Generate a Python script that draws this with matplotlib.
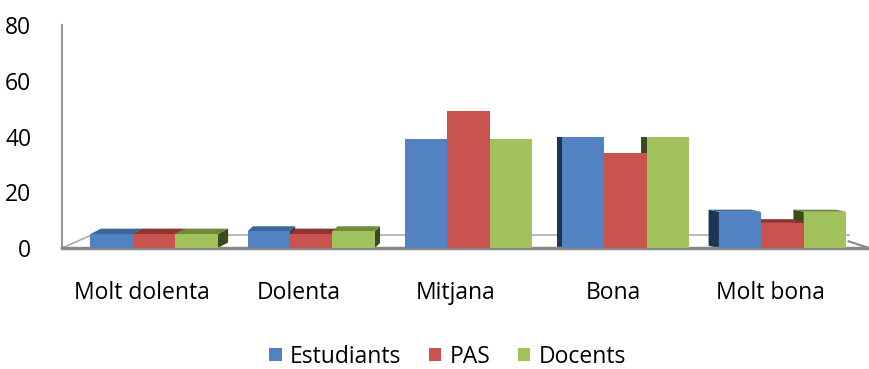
import numpy as np
import matplotlib
matplotlib.use('Agg')
import matplotlib.pyplot as plt
from matplotlib.patches import Polygon

categories = ['Molt dolenta', 'Dolenta', 'Mitjana', 'Bona', 'Molt bona']
series = ['Estudiants', 'PAS', 'Docents']
estudiants = [5, 6, 39, 40, 13]
pas = [5, 5, 49, 34, 9]
docents = [5, 6, 39, 40, 13]
yticks = [0, 20, 40, 60, 80]

front = ['#5282C2', '#C9544F', '#A2C25E']
top = ['#3E6799', '#8E3533', '#6E8A3A']
side = ['#1E3454', '#5A2220', '#3C4A20']

plt.rcParams['font.family'] = ['Open Sans', 'DejaVu Sans']

fig = plt.figure(figsize=(8.69, 3.69), dpi=100)
ax = fig.add_axes([62 / 869, (369 - 248) / 369, 1 - 62 / 869, (248 - 25) / 369])

w = 0.27
centre = 2.0          # vanishing point, in category units
k_side = 0.033        # horizontal depth per category unit away from centre
eye = 18.0            # bars below this level show their top face
k_top = 0.15

values = [estudiants, pas, docents]
x = np.arange(len(categories))

# floor behind the bars
ax.plot([-0.40, 4.42], [4.6, 4.6], color='#BBBBBB', lw=1.5, zorder=1)
ax.plot([-0.586, -0.40], [0, 4.6], color='#AAAAAA', lw=1.2, zorder=1, clip_on=False)
ax.plot([4.42, 4.55], [2.4, 0], color='#888888', lw=1.5, zorder=1, clip_on=False)

for s, vals in enumerate(values):
    for i, h in enumerate(vals):
        x0 = x[i] + (s - 1) * w - w / 2
        x1 = x0 + w
        dx = (centre - x[i]) * k_side
        dy = max(eye - h, 0) * k_top
        # side face toward the centre
        ex = x1 if dx > 0 else x0
        ax.add_patch(Polygon([(ex, 0), (ex, h), (ex + dx, h + dy), (ex + dx, dy)],
                             closed=True, color=side[s], zorder=2, lw=0))
        # top face
        if dy > 0:
            ax.add_patch(Polygon([(x0, h), (x1, h), (x1 + dx, h + dy), (x0 + dx, h + dy)],
                                 closed=True, color=top[s], zorder=2.5, lw=0))

for s, vals in enumerate(values):
    ax.bar(x + (s - 1) * w, vals, width=w, color=front[s], zorder=3, label=series[s])

ax.set_xlim(-0.586, 4.55)
ax.set_ylim(0, 80)
ax.set_yticks(yticks)
ax.set_yticklabels([str(t) for t in yticks], fontsize=16.5)
ax.set_xticks(x - 0.08)
ax.set_xticklabels(categories, fontsize=16.5)
ax.tick_params(axis='y', length=0, pad=22)
ax.tick_params(axis='x', length=0, pad=24)

for sp in ['top', 'right']:
    ax.spines[sp].set_visible(False)
ax.spines['left'].set_color('#999999')
ax.spines['left'].set_linewidth(1.5)
ax.spines['bottom'].set_color('#888888')
ax.spines['bottom'].set_linewidth(2.5)

fig.legend(loc='lower center', bbox_to_anchor=(0.515, -0.055), ncol=3, frameon=False,
           fontsize=16.5, handlelength=0.55, handleheight=0.55, handletextpad=0.35,
           columnspacing=1.2)

fig.savefig('out.png', dpi=100)
